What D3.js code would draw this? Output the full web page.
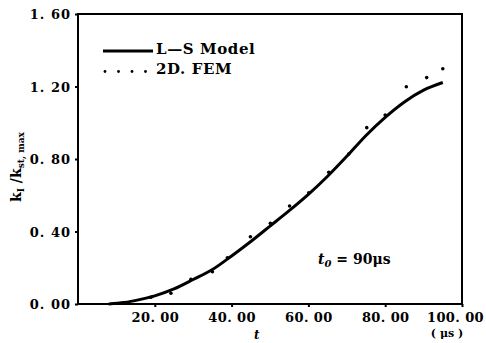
<!DOCTYPE html>
<html><head><meta charset="utf-8">
<script src="https://cdn.jsdelivr.net/npm/d3@7"></script>
<style>body{margin:0;background:#fff}svg{display:block}</style>
</head><body>
<script>
const xTicks = [20, 40, 60, 80, 100];
const xTickLabels = ["20. 00", "40. 00", "60. 00", "80. 00", "100. 00"];
const yTicks = [0, 0.4, 0.8, 1.2, 1.6];
const yTickLabels = ["0. 00", "0. 40", "0. 80", "1. 20", "1. 60"];

const modelT = [8, 12, 16, 20, 25, 30, 35, 40, 45, 50, 55, 60, 65, 70, 75, 80, 85, 90, 95];
const modelK = [0, 0.008, 0.024, 0.045, 0.083, 0.135, 0.19, 0.265, 0.345, 0.43, 0.515, 0.605, 0.705, 0.815, 0.93, 1.03, 1.115, 1.18, 1.222];

const femT = [19.0, 24.2, 29.4, 35.0, 38.9, 44.9, 50.1, 55.1, 60.1, 65.3, 70.5, 75.2, 80.0, 85.5, 90.8, 95.0];
const femK = [0.037, 0.059, 0.136, 0.178, 0.255, 0.371, 0.445, 0.541, 0.614, 0.727, 0.828, 0.973, 1.043, 1.199, 1.249, 1.298];

const W = 486, H = 343;
const L = 78, R = 462, T = 14, B = 304;
const font = "'DejaVu Serif', 'Liberation Serif', serif";

const svg = d3.select("body").append("svg").attr("width", W).attr("height", H);
const x = d3.scaleLinear().domain([0, 100]).range([L, R]);
const y = d3.scaleLinear().domain([0, 1.6]).range([B, T]);

// axes
const xAxis = svg.append("g").attr("transform", `translate(0,${B})`)
  .call(d3.axisBottom(x).tickValues(xTicks).tickSize(3).tickFormat((d, i) => xTickLabels[i]));
const yAxis = svg.append("g").attr("transform", `translate(${L},0)`)
  .call(d3.axisLeft(y).tickValues(yTicks).tickSize(3).tickFormat((d, i) => yTickLabels[i]));
[xAxis, yAxis].forEach(g => {
  g.select(".domain").remove();
  g.selectAll(".tick line").attr("stroke", "#000").attr("stroke-width", 2);
  g.selectAll("text").attr("fill", "#000").style("font-family", font)
    .style("font-size", "13px").style("font-weight", "bold");
});
xAxis.selectAll("text").attr("dy", null).attr("y", 17.5).style("letter-spacing", "0.4px");
xAxis.selectAll(".tick").filter(d => d === 100).select("text").attr("dx", -7);
yAxis.selectAll("text").attr("x", -7).attr("dy", "0.35em").style("letter-spacing", "1px");

// frame
svg.append("rect").attr("x", L).attr("y", T).attr("width", R - L).attr("height", B - T)
  .attr("fill", "none").attr("stroke", "#000").attr("stroke-width", 2);

// model curve
const modelData = modelT.map((t, i) => [t, modelK[i]]);
svg.append("path").datum(modelData)
  .attr("d", d3.line().x(d => x(d[0])).y(d => y(d[1])).curve(d3.curveMonotoneX))
  .attr("fill", "none").attr("stroke", "#000").attr("stroke-width", 3);

// FEM dots
svg.append("g").selectAll("circle").data(femT.map((t, i) => [t, femK[i]])).join("circle")
  .attr("cx", d => x(d[0])).attr("cy", d => y(d[1])).attr("r", 1.8).attr("fill", "#000");

// legend
svg.append("line").attr("x1", 103).attr("x2", 153).attr("y1", 51).attr("y2", 51)
  .attr("stroke", "#000").attr("stroke-width", 2.8);
[105, 118.5, 132, 145.5].forEach(cx => svg.append("circle").attr("cx", cx).attr("cy", 71.5).attr("r", 1.4).attr("fill", "#000"));
svg.append("text").attr("x", 156).attr("y", 53.5).text("L—S Model")
  .style("font-family", font).style("font-size", "15px").style("font-weight", "bold").style("letter-spacing", "0.6px");
svg.append("text").attr("x", 156).attr("y", 73.5).text("2D. FEM")
  .style("font-family", font).style("font-size", "15px").style("font-weight", "bold").style("letter-spacing", "0.6px");

// annotation t0 = 90us
const ann = svg.append("text").attr("x", 318).attr("y", 264)
  .style("font-family", font).style("font-size", "14px").style("font-weight", "bold");
ann.append("tspan").text("t").style("font-style", "italic");
ann.append("tspan").text("0").attr("dy", 3).style("font-size", "10px").style("font-style", "italic");
ann.append("tspan").text(" = 90").attr("dy", -3);
ann.append("tspan").text("μs");

// x labels
svg.append("text").attr("x", 254).attr("y", 339).text("t")
  .style("font-family", font).style("font-size", "12px").style("font-style", "italic").style("font-weight", "bold");
svg.append("text").attr("x", 447).attr("y", 337).attr("text-anchor", "middle").text("( μs )")
  .style("font-family", font).style("font-size", "11px").style("font-weight", "bold");

// y label
const yl = svg.append("text").attr("transform", "translate(21,167) rotate(-90)").attr("text-anchor", "middle")
  .style("font-family", font).style("font-size", "14px").style("font-weight", "bold");
yl.append("tspan").text("k");
yl.append("tspan").text("I").attr("dy", 3).style("font-size", "9px");
yl.append("tspan").text(" /").attr("dy", -3);
yl.append("tspan").text("k");
yl.append("tspan").text("st, max").attr("dy", 3).style("font-size", "9px");
</script>
</body></html>
